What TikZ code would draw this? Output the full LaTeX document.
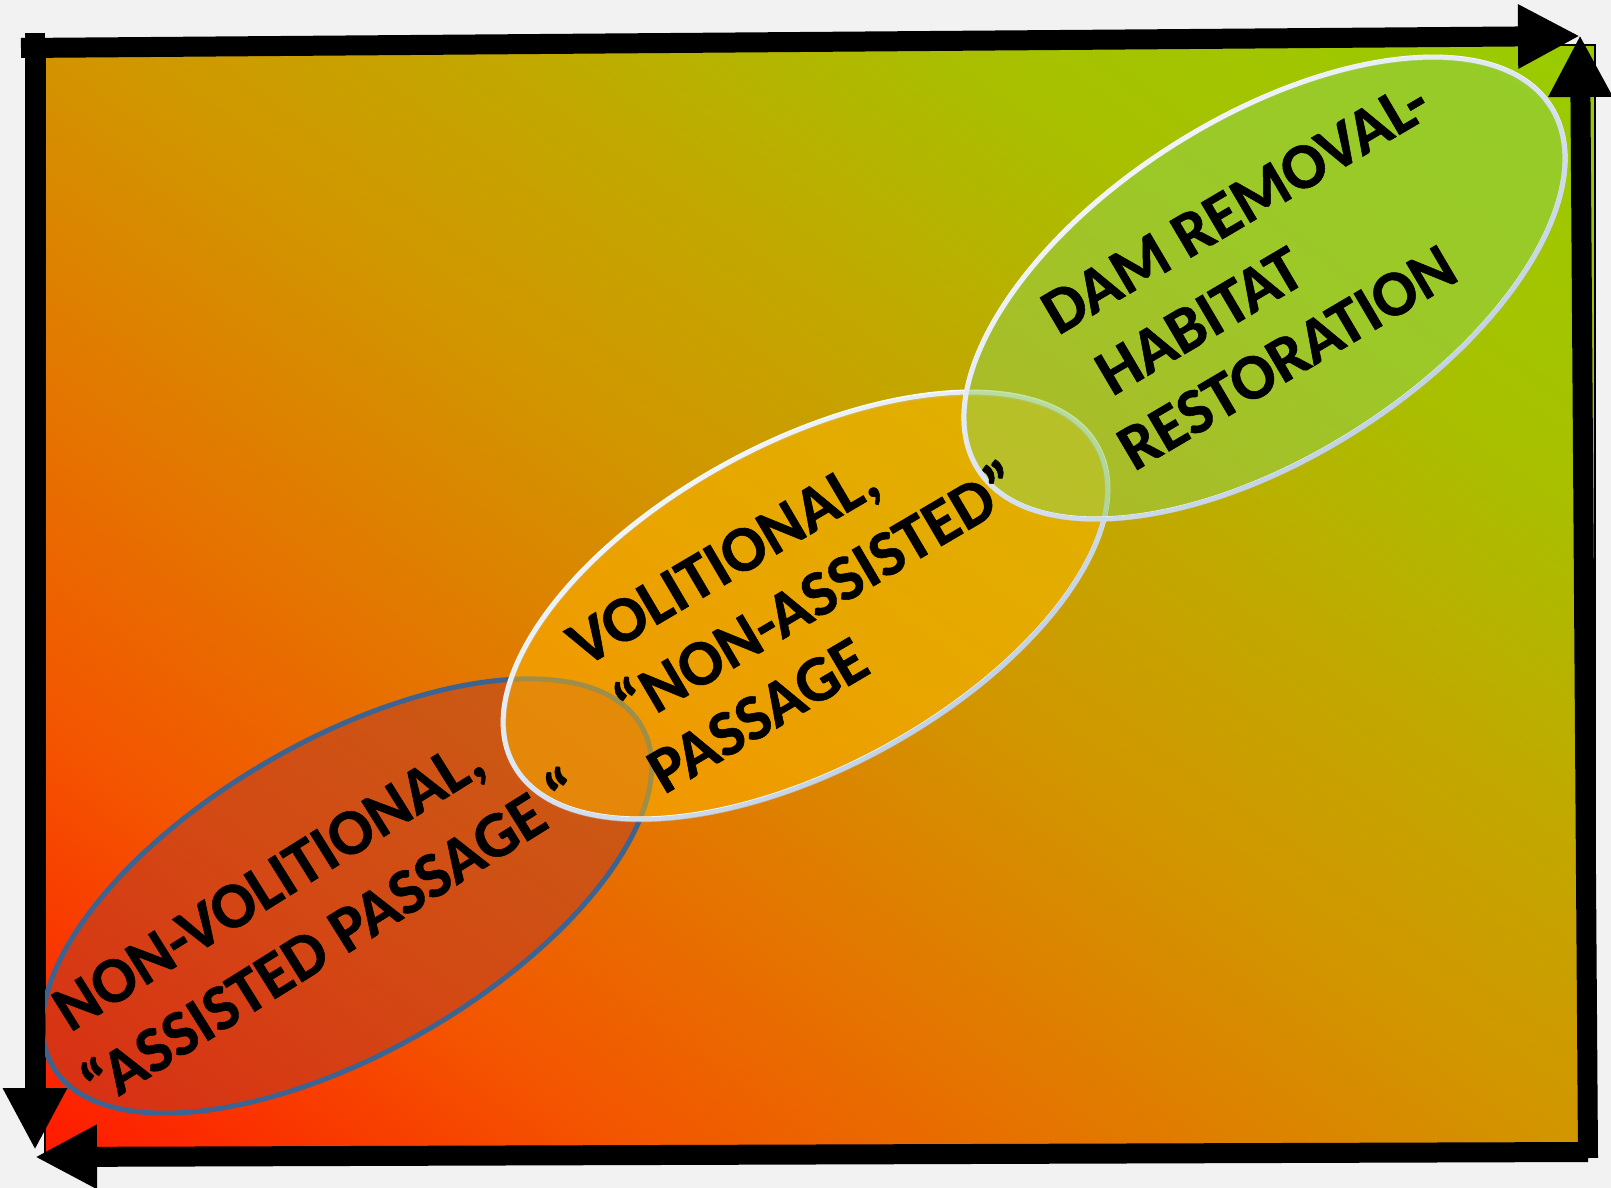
\documentclass[tikz,border=0pt]{standalone}
\usepackage{fontspec}
\setmainfont{Carlito}[BoldFeatures={FakeBold=0.8}]
\usetikzlibrary{arrows.meta,shapes.geometric,fadings}
\definecolor{bggray}{HTML}{F2F2F2}
\definecolor{gA}{HTML}{FF1A00}
\definecolor{gB}{HTML}{F45400}
\definecolor{gC}{HTML}{E47600}
\definecolor{gD}{HTML}{D29500}
\definecolor{gE}{HTML}{C2A800}
\definecolor{gF}{HTML}{A8C000}
\definecolor{gG}{HTML}{99CC00}
\definecolor{eonefill}{RGB}{180,60,40}
\definecolor{eoneline}{HTML}{3D6491}
\definecolor{etwofill}{HTML}{FFB800}
\definecolor{ethreefill}{HTML}{92D050}
\definecolor{paleblue}{HTML}{B4C8E2}
\pgfdeclarehorizontalshading{bgshade}{100bp}{color(0bp)=(gA); color(27.5bp)=(gA); color(36bp)=(gB); color(43bp)=(gC); color(50bp)=(gD); color(56.25bp)=(gE); color(63.25bp)=(gF); color(72.5bp)=(gG); color(100bp)=(gG)}
\begin{document}
\begin{tikzpicture}[x=1pt,y=-1pt,
  ell/.style={ellipse, inner sep=0pt, outer sep=0pt, line width=5pt},
  fadeline/.style={draw=paleblue, line width=5pt, path fading=north, fading angle=45},
  bar/.style={line width=20pt, draw=black},
  tipped/.style={bar, -{Triangle[length=62pt,width=60pt]}},
  lbl/.style={font=\bfseries\fontsize{65}{78}\selectfont, anchor=base west, inner sep=0pt, text=black}]
\fill[bggray] (0,0) rectangle (1611,1188);
\useasboundingbox (0,0) rectangle (1611,1188);
% gradient panel
\begin{scope}
\clip (45,45) rectangle (1595,1155);
\path[shading=bgshade, shading angle=54] (820,600) +(-1000,-1000) rectangle +(1000,1000);
\end{scope}
\draw[black, line width=2pt] (45,45) rectangle (1595,1155);
% ellipses
\node[ell, fill=eonefill, fill opacity=0.5, draw=eoneline, minimum width=680pt, minimum height=312pt, rotate=30] (e1) at (347,896) {};
\node[ell, fill=etwofill, fill opacity=0.5, draw=white, minimum width=665pt, minimum height=325pt, rotate=28.5] (e2) at (805.5,605.5) {};
\draw[fadeline, rotate around={28.5:(e2.center)}] (e2.center) ellipse [x radius=332.5pt, y radius=162.5pt];
\node[ell, fill=ethreefill, fill opacity=0.5, draw=white, minimum width=678pt, minimum height=339pt, rotate=32.3] (e3) at (1264.5,288) {};
\draw[fadeline, rotate around={32.3:(e3.center)}] (e3.center) ellipse [x radius=339pt, y radius=169.5pt];
% texts
\node[lbl, rotate=32] (t11) at (70,1033) {NON-VOLITIONAL,};
\node[lbl, rotate=32] (t12) at (99,1109) {“ASSISTED PASSAGE “};
\node[lbl, rotate=30.5] (t21) at (584,668) {VOLITIONAL,};
\node[lbl, rotate=30.5] (t22) at (631,729) {“NON-ASSISTED”};
\node[lbl, rotate=30.5] (t23) at (664,795) {PASSAGE};
\node[lbl, rotate=30.5] (t31) at (1058,336) {DAM REMOVAL-};
\node[lbl, rotate=30.5] (t32) at (1112,397) {HABITAT};
\node[lbl, rotate=30.5] (t33) at (1134,472) {RESTORATION};
% frame arrows
\coordinate (tl) at (21,48);
\coordinate (tr) at (1580,36);
\coordinate (rb) at (1588,1158);
\coordinate (rt) at (1580,35);
\coordinate (lt) at (35,33);
\coordinate (lb) at (35,1150);
\coordinate (bs) at (1588,1152);
\coordinate (bl) at (35,1157);
\draw[tipped] (tl) -- (tr);
\draw[tipped] (rb) -- (rt);
\draw[tipped] (lt) -- (lb);
\draw[tipped] (bs) -- (bl);
\end{tikzpicture}
\end{document}
